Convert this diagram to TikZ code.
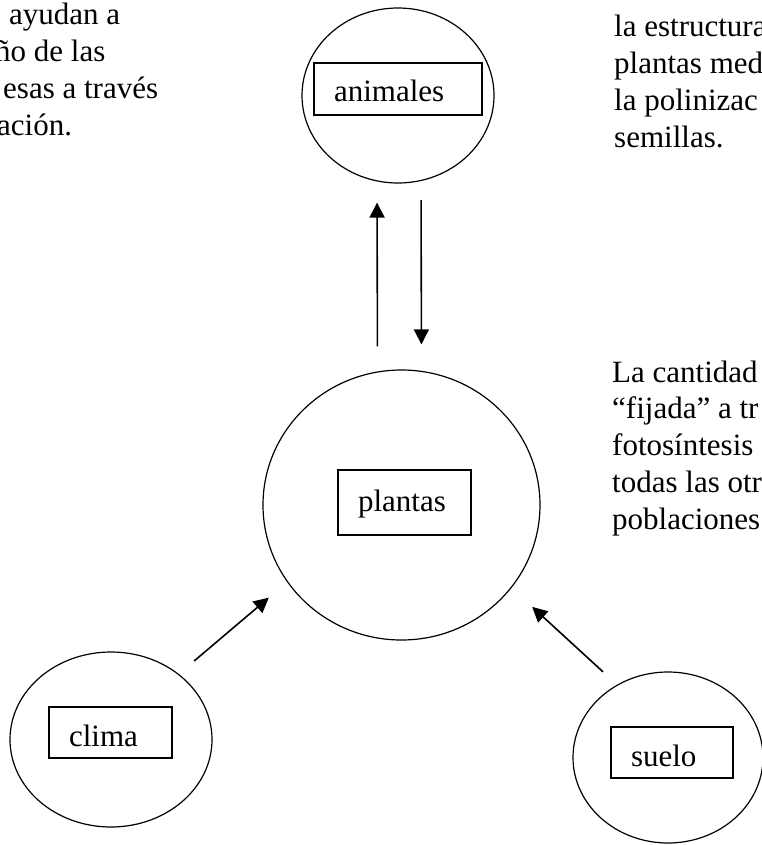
\documentclass[tikz,border=0pt]{standalone}
\usepackage{fontspec}
\setmainfont{Liberation Serif}
\usetikzlibrary{shapes.geometric,arrows.meta}

\tikzset{
  circulo/.style={draw, ellipse, line width=1.2pt, inner sep=0pt},
  caja/.style={draw, rectangle, line width=1.5pt, inner xsep=20pt, inner ysep=0pt,
    align=left, text height=28pt, text depth=0pt, minimum height=51pt},
  flecha/.style={line width=1.6pt, -{Triangle[length=15pt,width=15pt]}},
  linea/.style={anchor=base west, inner sep=0pt}
}

\begin{document}
\begin{tikzpicture}[x=1pt, y=-1pt, font=\fontsize{31}{36.7}\selectfont]
			%%%%% START %%%%%
			\useasboundingbox (0,0) rectangle (762,845);
			\clip (0,0) rectangle (762,845);
			
			\node[circulo, minimum width=192pt, minimum height=175pt] (animales) at (398,95.5) {};
			\node[caja, text width=128pt, text height=25pt, minimum height=52pt] (animalesbox) at (398,89.2) {animales};
			
			\node[circulo, minimum width=277pt, minimum height=270pt] (plantas) at (401.5,505) {};
			\node[caja, text width=93pt, text height=18.5pt, minimum height=65pt] (plantasbox) at (404.5,502.5) {plantas};
			
			\node[circulo, minimum width=202pt, minimum height=175pt] (clima) at (111,739.5) {};
			\node[caja, text width=83pt] (climabox) at (110.5,732.5) {clima};
			
			\node[circulo, minimum width=190pt, minimum height=171pt] (suelo) at (668,757.5) {};
			\node[caja, text width=82pt] (suelobox) at (672,752.5) {suelo};
			
			\draw[flecha, shorten <=23pt, shorten >=19pt] ([xshift=-24pt]plantas.north) -- ([xshift=-21pt]animales.south);
			\draw[flecha, shorten <=16.5pt, shorten >=25pt] ([xshift=23pt]animales.south) -- ([xshift=20pt]plantas.north);
			\draw[flecha, shorten <=20pt, shorten >=24pt] (clima.44) -- (plantas.214);
			\draw[flecha, shorten <=19pt, shorten >=28pt] (suelo.125) -- (plantas.323);
			
			% textos cortados por el borde
			\node[linea] (izq1) at (9,25) {ayudan a};
			\node[linea] (izq2) at (-5,61.7) {ño de las};
			\node[linea] (izq3) at (3,98.4) {esas a través};
			\node[linea] (izq4) at (-3,135.1) {ación.};
			
			\foreach \texto [count=\i] in {la estructura, plantas med, la polinizac, semillas.}
				\node[linea] (arriba\i) at (614,{37+36.7*(\i-1)}) {\texto};
			
			\foreach \texto [count=\i] in {La cantidad, “fijada” a tr, fotosíntesis, todas las otr, poblaciones}
				\node[linea] (der\i) at (612,{382+36.8*(\i-1)}) {\texto};
			%%%%% END %%%%%
\end{tikzpicture}
\end{document}
